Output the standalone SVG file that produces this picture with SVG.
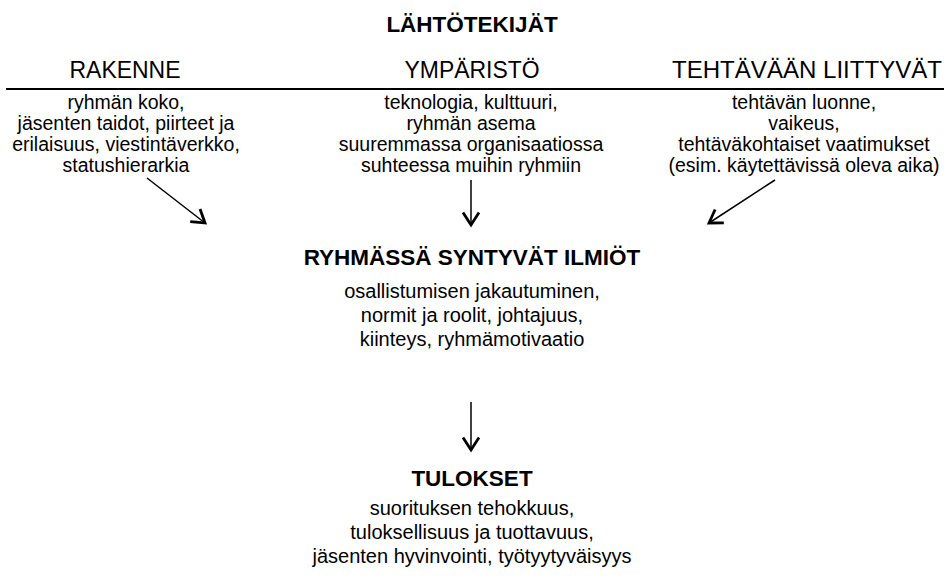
<svg xmlns="http://www.w3.org/2000/svg" width="944" height="578" viewBox="0 0 944 578">
  <style>
    text { font-family: "Liberation Sans", Arial, sans-serif; fill: #000; text-anchor: middle; }
    .title { font-size: 22.5px; font-weight: bold; }
    .head { font-size: 24px; }
    .body { font-size: 19.5px; }
    .body2 { font-size: 20px; }
    .conn { stroke: #000; stroke-width: 1.5; fill: none; marker-end: url(#arrow); }
    .rule { stroke: #000; stroke-width: 2; }
  </style>
  <defs>
    <!-- open V-shaped arrowhead, heavier than the shaft -->
    <marker id="arrow" markerUnits="userSpaceOnUse" markerWidth="24" markerHeight="24" viewBox="-16 -12 19 24" refX="0" refY="0" orient="auto">
      <path d="M-12.5,-8 L0,0 L-12.5,8" fill="none" stroke="#000" stroke-width="2.8" stroke-linejoin="miter"/>
    </marker>
  </defs>
  <rect width="944" height="578" fill="#fff"/>

  <g id="lahtotekijat">
    <text class="title" x="472" y="32">LÄHTÖTEKIJÄT</text>
    <line class="rule" x1="6" y1="89" x2="944" y2="89"/>
  </g>

  <g id="rakenne">
    <text class="head" x="125" y="78" textLength="111" lengthAdjust="spacingAndGlyphs">RAKENNE</text>
    <text class="body" x="126" y="109">ryhmän koko,</text>
    <text class="body" x="126" y="130">jäsenten taidot, piirteet ja</text>
    <text class="body" x="126" y="151">erilaisuus, viestintäverkko,</text>
    <text class="body" x="126" y="172">statushierarkia</text>
  </g>

  <g id="ymparisto">
    <text class="head" x="472" y="78" textLength="135" lengthAdjust="spacingAndGlyphs">YMPÄRISTÖ</text>
    <text class="body" x="471" y="109">teknologia, kulttuuri,</text>
    <text class="body" x="471" y="130">ryhmän asema</text>
    <text class="body" x="471" y="151">suuremmassa organisaatiossa</text>
    <text class="body" x="471" y="172">suhteessa muihin ryhmiin</text>
  </g>

  <g id="tehtava">
    <text class="head" x="807" y="78" textLength="270" lengthAdjust="spacingAndGlyphs">TEHTÄVÄÄN LIITTYVÄT</text>
    <text class="body" x="804" y="109">tehtävän luonne,</text>
    <text class="body" x="804" y="130">vaikeus,</text>
    <text class="body" x="804" y="151">tehtäväkohtaiset vaatimukset</text>
    <text class="body" x="804" y="172">(esim. käytettävissä oleva aika)</text>
  </g>

  <g id="ilmiot">
    <text class="title" x="472" y="265">RYHMÄSSÄ SYNTYVÄT ILMIÖT</text>
    <text class="body2" x="472" y="298">osallistumisen jakautuminen,</text>
    <text class="body2" x="472" y="322">normit ja roolit, johtajuus,</text>
    <text class="body2" x="472" y="346">kiinteys, ryhmämotivaatio</text>
  </g>

  <g id="tulokset">
    <text class="title" x="472" y="486">TULOKSET</text>
    <text class="body2" x="472" y="515">suorituksen tehokkuus,</text>
    <text class="body2" x="472" y="539">tuloksellisuus ja tuottavuus,</text>
    <text class="body2" x="472" y="563">jäsenten hyvinvointi, työtyytyväisyys</text>
  </g>

  <g id="connectors">
    <line class="conn" x1="147" y1="178" x2="205" y2="223"/>
    <line class="conn" x1="471" y1="180" x2="471" y2="225"/>
    <line class="conn" x1="775" y1="180" x2="709" y2="223"/>
    <line class="conn" x1="471" y1="402" x2="471" y2="450"/>
  </g>
</svg>
